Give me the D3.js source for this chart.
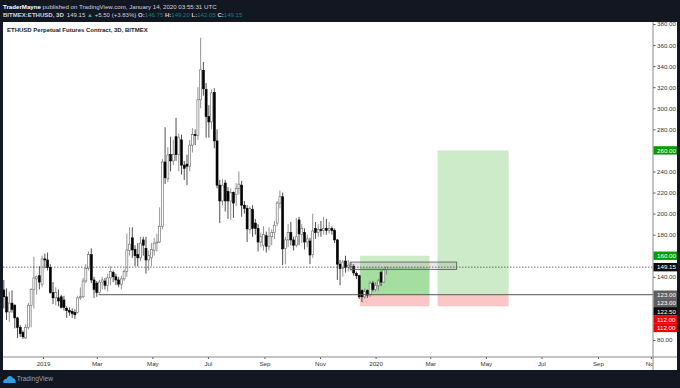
<!DOCTYPE html>
<html>
<head>
<meta charset="utf-8">
<script src="https://cdnjs.cloudflare.com/ajax/libs/d3/7.8.5/d3.min.js"></script>
<style>
  html, body { margin: 0; padding: 0; background: #131722; }
  svg { display: block; font-family: "Liberation Sans", sans-serif; }
  .tick text { fill: #333; font-size: 6.2px; }
</style>
</head>
<body>
<script>
const WIDTH = 680;
const HEIGHT = 388;

// one candle every 3 days, first one below
const firstCandle = "2018-11-19";
const opens = [127.5,121,106.6,115,113,101,92,87,82,92,113,128,138,141,133,157,156,149,125,120,120,121,118,110,108,107,106,106,120,121,136,148,161,137,134,125,135,136,132,139,144,140,137,133,138,145,165,177,166,161,158,175,167,156,158,165,172,173,188,249,233,256,250,273,256,270,246,247,245,265,275,274,308,336,318,292,287,315,269,227,212,229,221,212,220,218,224,227,208,205,185,204,191,186,173,170,179,169,178,182,191,210,216,167,175,182,175,170,194,180,182,173,174,161,186,182,185,184,186,184,186,184,175,152,148,155,149,150,150,143,141,127,121,127,123,134,128,132,144,135,146.75];
const highs = [137,129,126,127,114,102,94,89,95,115,129,159,141,150,160,162,163,152,135,130,128,123,122,112,111,110,109,122,130,139,152,164,167,140,136,137,140,139,143,150,146,143,140,141,147,181,187,187,170,172,178,178,178,165,172,177,181,206,252,282,263,273,270,291,276,275,250,256,270,281,280,320,367,344,324,303,318,319,280,232,233,232,225,224,221,229,240,231,212,208,207,208,195,190,182,188,183,187,185,193,212,222,220,178,190,192,178,196,197,190,186,180,177,200,192,190,193,197,195,192,188,186,176,156,156,160,156,154,152,145,142,128,129,128,136,136,135,138,146,148,149.2];
const lows = [110,99,97,106,91,82,83,81,81,90,92,110,123,128,130,148,146,124,114,113,112,110,108,101,103,101,100,105,118,120,134,146,134,120,121,124,128,128,126,132,135,132,130,128,136,140,160,158,150,150,155,160,143,146,150,160,164,172,185,228,230,240,246,250,240,237,232,227,240,258,265,270,300,312,272,272,280,262,224,191,208,202,195,194,196,207,218,197,200,173,181,178,180,164,168,165,163,165,170,176,188,205,151,152,168,170,165,168,170,172,166,168,152,158,176,178,178,180,180,181,180,172,137,132,140,144,145,145,141,138,119,116,119,120,121,126,126,127,131,134,142.05];
const closes = [121,106.6,115,109,101,92,86,83,92,113,128,139,140,135,157,156,149,125,120,125,117,111,111,108,106.5,105,104,120,121,136,148,161,137,128,125,135,137,132,139,145,140,137,133,138,145,165.5,171,165.5,160,158,172,170,156,160,166,172,173,188,249,234,255.7,250,256,256,272,246,243,245,265,275,274,308,336.5,318.5,292,287,314.6,269,227,212,227,212,212,220,210,224,228,208,205,185.5,205,186,186,173,178,180,169,178,182,189,210,216,166.5,175,182,175,170,178,180.7,186,173,176,160.7,183.5,182,185,184,186,184,186,184,175,152,148,154,149,151,152,143.6,141,121,121,126,122.7,134,128,132,136,135,146.5,149.15];

const priceTicks = [380,360,340,320,300,280,240,220,200,180,140,80];
const timeTicks = ["2019-01-01","2019-03-01","2019-05-01","2019-07-01","2019-09-01","2019-11-01","2020-01-01","2020-03-01","2020-05-01","2020-07-01","2020-09-01","2020-10-29"];
const timeLabels = ["2019","Mar","May","Jul","Sep","Nov","2020","Mar","May","Jul","Sep","Nov"];

// right hand price badges, top to bottom
const badgeValues = [260,160,149.15,123,123,122.5,112,112];
const badgeColors = ["#089c08","#089c08","#0b0b0b","#5f5f5f","#5f5f5f","#0b0b0b","#f00000","#f00000"];

// long positions drawn on the chart
const entryPrice = 123;
const stopPrice = 112;
const lastPrice = 149.15;
const positionStarts = ["2019-12-15","2020-03-09"];
const positionEnds = ["2020-02-29","2020-05-26"];
const positionTargets = [160,260];

// the grey box over the last price
const boxStart = "2019-12-04";
const boxEnd = "2020-03-30";
const boxTop = 154;
const boxBottom = 147;

const hlineStart = "2019-03-03";

const LEFT = 3;
const AXIS_X = 653;
const RIGHT = 677;
const TOP = 22;
const AXIS_Y = 357;
const BOTTOM = 370;

const day = d3.utcParse("%Y-%m-%d");
const x = d3.scaleUtc()
    .domain([day("2019-01-01"), day("2020-01-01")])
    .range([43, 375.6]);
const y = d3.scaleLinear()
    .domain([80, 380])
    .range([340, 24]);

const svg = d3.select("body").append("svg")
    .attr("width", WIDTH)
    .attr("height", HEIGHT);

svg.append("rect")
    .attr("width", WIDTH).attr("height", HEIGHT)
    .attr("fill", "#131722");
svg.append("rect")
    .attr("x", LEFT).attr("y", TOP)
    .attr("width", RIGHT - LEFT).attr("height", BOTTOM - TOP)
    .attr("fill", "#fff");

svg.append("clipPath").attr("id", "plot")
    .append("rect")
    .attr("x", LEFT).attr("y", TOP)
    .attr("width", AXIS_X - LEFT).attr("height", AXIS_Y - TOP);

const plot = svg.append("g").attr("clip-path", "url(#plot)");

// positions
positionStarts.forEach(function(s, i){
    const x0 = x(day(s)), x1 = x(day(positionEnds[i]));
    plot.append("rect")
        .attr("x", x0).attr("width", x1 - x0)
        .attr("y", y(positionTargets[i]))
        .attr("height", y(entryPrice) - y(positionTargets[i]))
        .attr("fill", "#cdebc9");
    plot.append("rect")
        .attr("x", x0).attr("width", x1 - x0)
        .attr("y", y(entryPrice))
        .attr("height", y(stopPrice) - y(entryPrice))
        .attr("fill", "#fdc6c6");
    if(i == 0){
        plot.append("rect")
            .attr("x", x0).attr("width", x1 - x0)
            .attr("y", y(lastPrice))
            .attr("height", y(entryPrice) - y(lastPrice))
            .attr("fill", "#a5dea1");
    }
});

// candles
const step = 3 * 24 * 3600 * 1000;
const dates = opens.map(function(o, i){ return new Date(+day(firstCandle) + i * step); });

plot.append("g").selectAll("line")
    .data(opens)
    .join("line")
    .attr("x1", function(d, i){ return x(dates[i]); })
    .attr("x2", function(d, i){ return x(dates[i]); })
    .attr("y1", function(d, i){ return y(highs[i]); })
    .attr("y2", function(d, i){ return y(lows[i]); })
    .attr("stroke", function(d, i){ return closes[i] < d ? "#222" : "#777"; })
    .attr("stroke-width", 0.8);

plot.append("g").selectAll("rect")
    .data(opens)
    .join("rect")
    .attr("x", function(d, i){ return x(dates[i]) - 1; })
    .attr("width", 2)
    .attr("y", function(d, i){ return y(Math.max(d, closes[i])); })
    .attr("height", function(d, i){ return Math.max(0.8, Math.abs(y(d) - y(closes[i]))); })
    .attr("fill", function(d, i){ return closes[i] < d ? "#000" : "#fff"; })
    .attr("stroke", function(d, i){ return closes[i] < d ? "#000" : "#666"; })
    .attr("stroke-width", 0.6);

// last price line
plot.append("line")
    .attr("x1", LEFT).attr("x2", AXIS_X)
    .attr("y1", y(lastPrice)).attr("y2", y(lastPrice))
    .attr("stroke", "#333")
    .attr("stroke-width", 0.7)
    .attr("stroke-dasharray", "1.5,1.5");

// entry line
plot.append("line")
    .attr("x1", x(day(hlineStart))).attr("x2", AXIS_X)
    .attr("y1", y(entryPrice)).attr("y2", y(entryPrice))
    .attr("stroke", "#555")
    .attr("stroke-width", 1);

plot.append("rect")
    .attr("x", x(day(boxStart)))
    .attr("width", x(day(boxEnd)) - x(day(boxStart)))
    .attr("y", y(boxTop))
    .attr("height", y(boxBottom) - y(boxTop))
    .attr("fill", "rgba(120,120,120,0.18)")
    .attr("stroke", "#555")
    .attr("stroke-width", 0.8);

// axes
const priceAxis = d3.axisRight(y)
    .tickValues(priceTicks)
    .tickSize(2.5)
    .tickPadding(1.5)
    .tickFormat(d3.format(".2f"));
const gy = svg.append("g")
    .attr("transform", "translate(" + AXIS_X + ",0)")
    .call(priceAxis);
gy.select(".domain").remove();
gy.selectAll(".tick line").attr("stroke", "#555");

svg.append("clipPath").attr("id", "timeclip")
    .append("rect")
    .attr("x", LEFT).attr("y", AXIS_Y - 1)
    .attr("width", AXIS_X - LEFT).attr("height", BOTTOM - AXIS_Y);

const timeAxis = d3.axisBottom(x)
    .tickValues(timeTicks.map(day))
    .tickSize(2)
    .tickPadding(2.5)
    .tickFormat(function(d, i){ return timeLabels[i]; });
const gx = svg.append("g")
    .attr("clip-path", "url(#timeclip)")
    .append("g")
    .attr("transform", "translate(0," + AXIS_Y + ")")
    .call(timeAxis);
gx.select(".domain").remove();
gx.selectAll(".tick line").attr("stroke", "#555");

svg.append("line")
    .attr("x1", LEFT).attr("x2", RIGHT)
    .attr("y1", AXIS_Y).attr("y2", AXIS_Y)
    .attr("stroke", "#8a8a8a").attr("stroke-width", 1);
svg.append("line")
    .attr("x1", AXIS_X).attr("x2", AXIS_X)
    .attr("y1", TOP).attr("y2", BOTTOM)
    .attr("stroke", "#8a8a8a").attr("stroke-width", 1);

// badges push each other down when they would overlap, like on tradingview
var lastY = -100;
badgeValues.forEach(function(v, i){
    const by = Math.max(y(v), lastY + 8.3);
    lastY = by;
    svg.append("rect")
        .attr("x", AXIS_X + 0.5).attr("width", RIGHT - AXIS_X - 0.5)
        .attr("y", by - 4.2).attr("height", 8.4)
        .attr("fill", badgeColors[i]);
    svg.append("text")
        .attr("x", AXIS_X + 4).attr("y", by + 2.2)
        .attr("fill", "#fff")
        .style("font-size", "6.2px")
        .text(d3.format(".2f")(v));
});

// header
const line1 = svg.append("text").attr("x", 3).attr("y", 8.5).style("font-size", "6.15px").attr("fill", "#d1d4dc");
line1.append("tspan").attr("font-weight", "bold").attr("fill", "#fff").text("TraderMayne");
line1.append("tspan").text(" published on TradingView.com, January 14, 2020 03:55:31 UTC");

const line2 = svg.append("text").attr("x", 3).attr("y", 17).style("font-size", "6.05px").attr("fill", "#d1d4dc");
line2.append("tspan").attr("font-weight", "bold").text("BITMEX:ETHUSD, 3D");
line2.append("tspan").attr("dx", 3).text("149.15 ");
line2.append("tspan").attr("fill", "#26a69a").text("▲");
line2.append("tspan").text(" +5.50 (+3.83%) ");
[["O:","146.75"],["H:","149.20"],["L:","142.05"],["C:","149.15"]].forEach(function(p){
    line2.append("tspan").attr("font-weight", "bold").text(p[0]);
    line2.append("tspan").attr("fill", "#1b7f75").text(p[1] + " ");
});

svg.append("text")
    .attr("x", 7).attr("y", 31.5)
    .attr("fill", "#222")
    .attr("font-weight", "bold")
    .style("font-size", "6px")
    .text("ETHUSD Perpetual Futures Contract, 3D, BITMEX");

// logo
svg.append("path")
    .attr("d", "M3.5 383 C2.5 380 5 378.5 6.5 379 C7.5 375.5 11.5 375 12.5 378 C14.5 378 16.5 381 15.5 383 Z")
    .attr("fill", "#2e9fe6");
svg.append("text")
    .attr("x", 16.7).attr("y", 381.3)
    .attr("fill", "#9aa0ab")
    .style("font-size", "6.6px")
    .text("TradingView");
</script>
</body>
</html>
